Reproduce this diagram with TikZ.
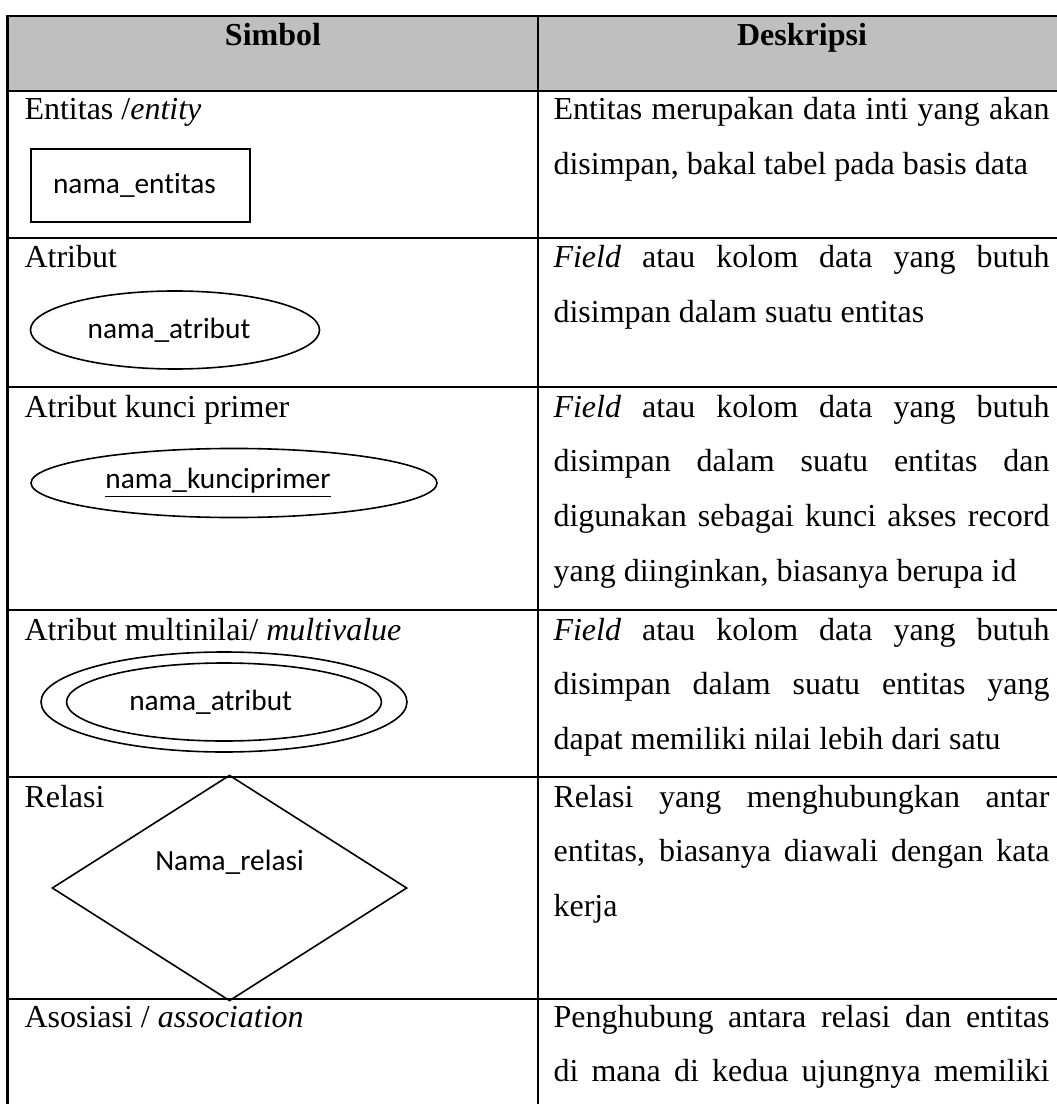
\documentclass[tikz,border=0pt]{standalone}
\usepackage{fontspec}
\setmainfont{Liberation Serif}
\newfontfamily\shapefont[Ligatures=NoCommon]{Carlito}
\usetikzlibrary{shapes.geometric}
\definecolor{headgray}{RGB}{191, 191, 191}

\begin{document}
\begin{tikzpicture}[
  x=0.375pt, y=-0.375pt,
  tbl/.style={line width=0.95pt, black},
  head/.style={anchor=base, inner sep=0pt, font=\fontsize{12}{14}\selectfont\bfseries},
  lbl/.style={anchor=base west, inner sep=0pt, font=\fontsize{12}{14}\selectfont},
  desc/.style={anchor=base west, inner sep=0pt, text width=186pt, align=justify, font=\fontsize{12}{20.6}\selectfont},
  sym/.style={draw, line width=0.6pt, inner sep=0pt, font=\shapefont\fontsize{11}{13}\selectfont},
]
  \useasboundingbox (0,0) rectangle (1057,1104);
  \fill[headgray] (7.5,16) rectangle (1057,91);
  \draw[tbl] (1057,16) -- (7.5,16) -- (7.5,1104);
  \draw[tbl] (538,16) -- (538,1104);
  \draw[tbl] (7.5,91) -- (1057,91);
  \draw[tbl] (7.5,238) -- (1057,238);
  \draw[tbl] (7.5,387) -- (1057,387);
  \draw[tbl] (7.5,610) -- (1057,610);
  \draw[tbl] (7.5,777) -- (1057,777);
  \draw[tbl] (7.5,999) -- (1057,999);

  \node[head] (hsym) at (273,46) {Simbol};
  \node[head] (hdesc) at (802,46) {Deskripsi};

  \node[lbl] (lent) at (24,120) {Entitas /\textit{entity}};
  \node[sym, rectangle, minimum width=82.1pt, minimum height=27.4pt] (ent) at (140.5,185.5) {nama\_entitas\hspace*{4.5pt}};
  \node[desc] (dent) at (553,120) {Entitas merupakan data inti yang akan\linebreak disimpan, bakal tabel pada basis data};

  \node[lbl] (lattr) at (24,268) {Atribut};
  \node[sym, ellipse, minimum width=108.4pt, minimum height=29.25pt] (attr) at (175,330) {nama\_atribut\hspace*{4.5pt}};
  \node[desc] (dattr) at (553,268) {\textit{Field} atau kolom data yang butuh\linebreak disimpan dalam suatu entitas};

  \node[lbl] (lpk) at (24,417) {Atribut kunci primer};
  \node[sym, ellipse, minimum width=152.25pt, minimum height=25.9pt] (pk) at (234,483) {\underline{nama\_kunciprimer}\hspace*{12pt}};
  \node[desc] (dpk) at (553,417) {\textit{Field} atau kolom data yang butuh\linebreak disimpan dalam suatu entitas dan\linebreak digunakan sebagai kunci akses record\linebreak yang diinginkan, biasanya berupa id};

  \node[lbl] (lmv) at (24,640) {Atribut multinilai/ \textit{multivalue}};
  \node[sym, ellipse, minimum width=137.25pt, minimum height=37.5pt] (mvout) at (224,702) {};
  \node[sym, ellipse, minimum width=118.1pt, minimum height=29.25pt] (mvin) at (mvout.center) {nama\_atribut\hspace*{10pt}};
  \node[desc] (dmv) at (553,640) {\textit{Field} atau kolom data yang butuh\linebreak disimpan dalam suatu entitas yang\linebreak dapat memiliki nilai lebih dari satu};

  \node[lbl] (lrel) at (24,807) {Relasi};
  \node[sym, diamond, minimum width=133.1pt, minimum height=74.25pt, text height=8pt, text depth=21pt] (rel) at (229.5,888) {Nama\_relasi};
  \node[desc] (drel) at (553,807) {Relasi yang menghubungkan antar\linebreak entitas, biasanya diawali dengan kata\linebreak kerja};

  \node[lbl] (lasc) at (24,1027) {Asosiasi / \textit{association}};
  \node[desc] (dasc) at (553,1027) {Penghubung antara relasi dan entitas\linebreak di mana di kedua ujungnya memiliki\linebreak\mbox{}};
\end{tikzpicture}
\end{document}
